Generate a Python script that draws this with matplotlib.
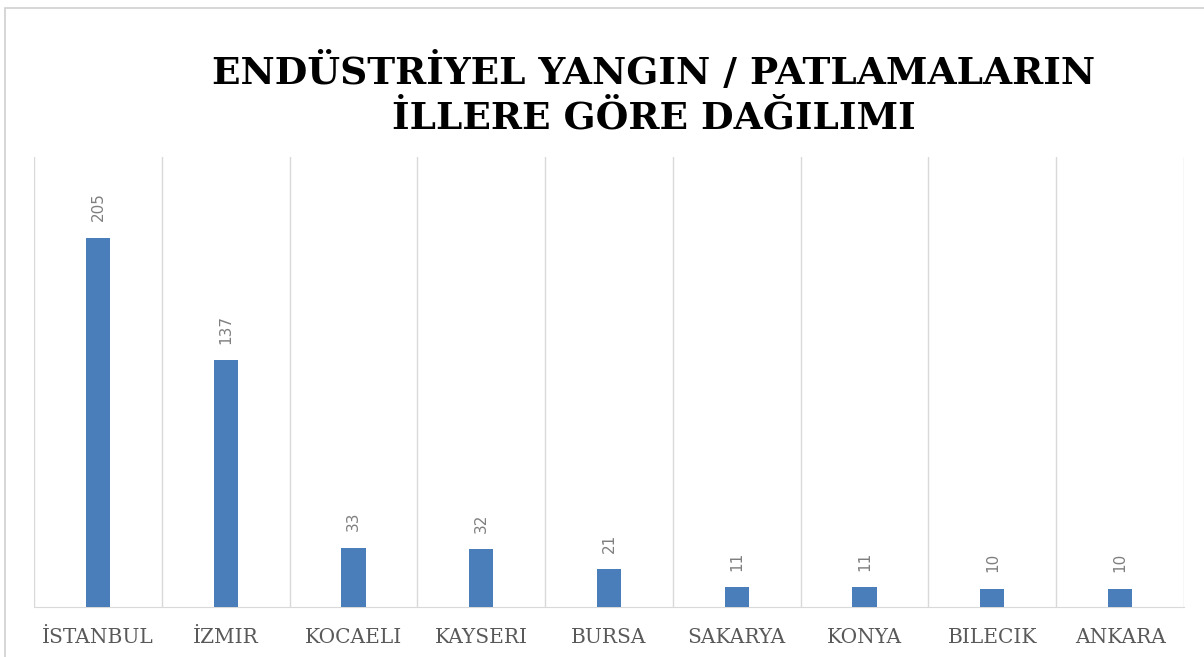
import numpy as np
import matplotlib
matplotlib.use('Agg')
import matplotlib.pyplot as plt
from matplotlib.patches import Rectangle

# data
cities = ['İSTANBUL', 'İZMIR', 'KOCAELI', 'KAYSERI', 'BURSA',
          'SAKARYA', 'KONYA', 'BILECIK', 'ANKARA']
counts = [205, 137, 33, 32, 21, 11, 11, 10, 10]
title = 'ENDÜSTRİYEL YANGIN / PATLAMALARIN\nİLLERE GÖRE DAĞILIMI'

fig = plt.figure(figsize=(12.04, 6.57), dpi=100)

# outer frame of the chart object
fig.patches.append(Rectangle((5 / 1204, -0.05), 1.1, 1 - 8 / 657 + 0.05,
                             transform=fig.transFigure, fill=False,
                             edgecolor='#d0d0d0', linewidth=1.2))

ax = fig.add_axes([34 / 1204, 1 - 607 / 657, 1150 / 1204, 450 / 657])

x = np.arange(len(counts))
ax.bar(x, counts, width=0.19, color='#4a7ebb', zorder=3)

for xi, v in zip(x, counts):
    ax.annotate(str(v), (xi, v), xytext=(0, 12), textcoords='offset points',
                rotation=90, ha='center', va='bottom', color='#7f7f7f',
                fontsize=11, family='DejaVu Sans')

ax.set_xlim(-0.5, len(counts) - 0.5)
ax.set_ylim(0, 250)

# vertical grid lines between categories
for b in np.arange(-0.5, len(counts), 1.0):
    ax.axvline(b, color='#d9d9d9', linewidth=1, zorder=1)

ax.set_yticks([])
ax.set_xticks(x)
ax.set_xticklabels(cities, family='DejaVu Serif', fontsize=14.5,
                   color='#595959')
ax.tick_params(axis='x', length=0, pad=15)
for s in ['top', 'left', 'right']:
    ax.spines[s].set_visible(False)
ax.spines['bottom'].set_color('#d9d9d9')

fig.text(654 / 1204, 1 - 95 / 657, title, ha='center', va='center',
         family='DejaVu Serif', fontweight='bold', fontsize=27,
         linespacing=1.25, color='black')

plt.savefig('out.png', dpi=100)
